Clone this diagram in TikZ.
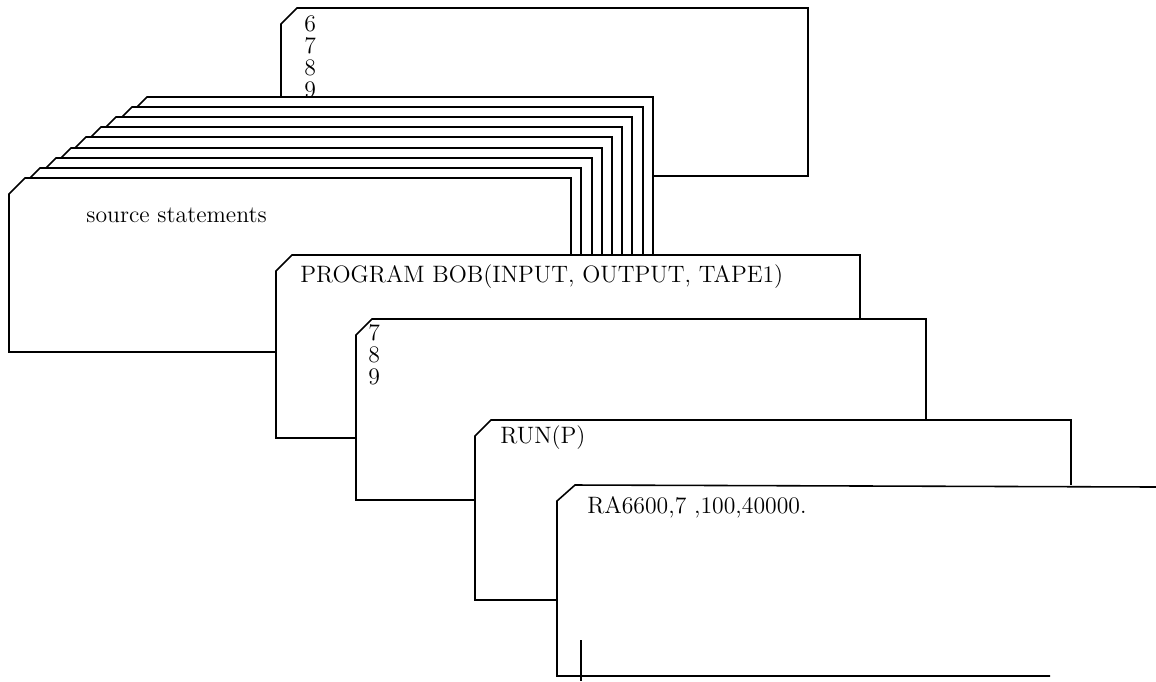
\documentclass[tikz,border=0pt]{standalone}
\usepackage{tikz}

\tikzset{
  card/.style={draw, fill=white, line width=0.9pt, line join=miter},
  cardtext/.style={font=\fontsize{13.5}{12.5}\selectfont, anchor=north west, inner sep=0pt, align=left}
}

\begin{document}
\begin{tikzpicture}[x=0.02cm, y=-0.02cm]
        \useasboundingbox (0,0) rectangle (1156,681);

        % Back card 6 7 8 9
        \filldraw[card] (281,24) -- (297,8) -- (808,8) -- (808,176) -- (281,176) -- cycle;
        \node[cardtext] (topdigits) at (304,15) {6\\7\\8\\9};

        % Deck of source cards
        \foreach \xl/\yt/\xr in {131/97/653, 116/107/643, 100/117/632, 85/127/622,
                                 70/137/612, 55/148/602, 40/158/592, 24/168/581, 9/178/571}
          \filldraw[card] (\xl,\yt+16) -- (\xl+16,\yt) -- (\xr,\yt) -- (\xr,\yt+174) -- (\xl,\yt+174) -- cycle;
        \node[cardtext, anchor=west] (source) at (86,215) {source statements};

        % PROGRAM card
        \filldraw[card] (276,271) -- (292,255) -- (860,255) -- (860,438) -- (276,438) -- cycle;
        \node[cardtext] (progcard) at (300,264) {PROGRAM BOB(INPUT, OUTPUT, TAPE1)};

        % Card 7 8 9
        \filldraw[card] (356,335) -- (372,319) -- (926,319) -- (926,500) -- (356,500) -- cycle;
        \node[cardtext] (middigits) at (368,324) {7\\8\\9};

        % RUN card
        \filldraw[card] (475,436) -- (491,420) -- (1071,420) -- (1071,600) -- (475,600) -- cycle;
        \node[cardtext] (runcard) at (500,425) {RUN(P)};

        % RA card, open to the right
        \fill[white] (557,501) -- (575,485) -- (1160,485) -- (1160,676) -- (557,676) -- cycle;
        \draw[line width=0.9pt] (1050,676) -- (557,676) -- (557,501) -- (575,485) -- (1156,487);
        \node[cardtext] (racard) at (587,496) {RA6600,7 ,100,40000.};

        % Mark near the bottom
        \coordinate (M1) at (581,640);
        \coordinate (M2) at (581,681);
        \draw[line width=0.9pt] (M1) -- (M2);
\end{tikzpicture}
\end{document}
